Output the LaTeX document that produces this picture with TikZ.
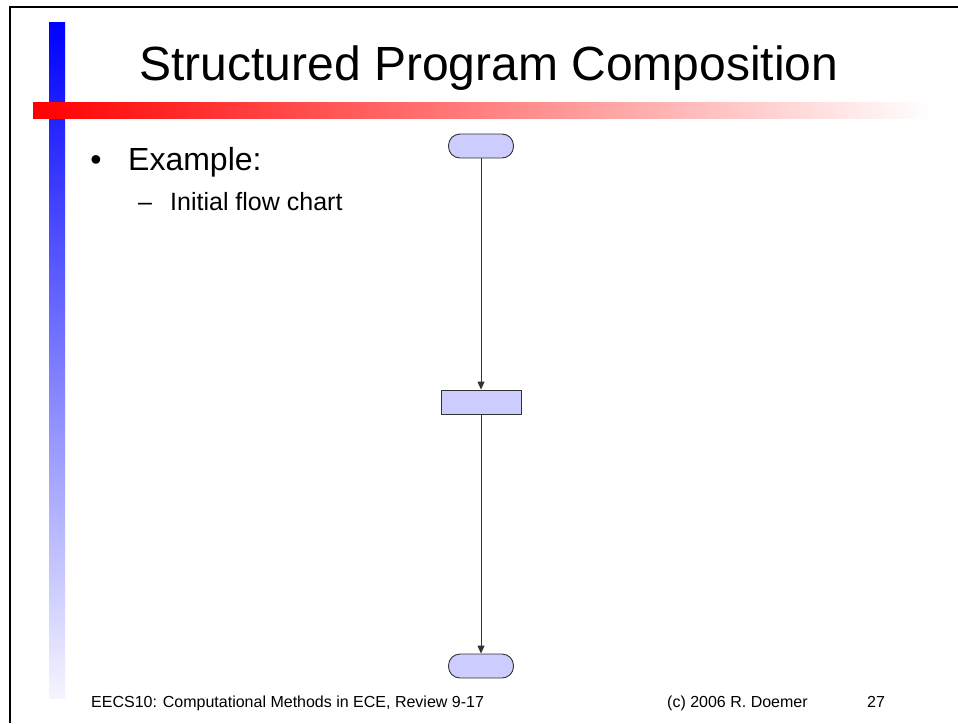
\documentclass[tikz,border=0pt]{standalone}
\usepackage{fontspec}
\setmainfont{Liberation Sans}
\usepackage{tikz}
\usetikzlibrary{arrows.meta}
\definecolor{boxfill}{RGB}{204,204,255}
\definecolor{boxline}{RGB}{50,50,50}

\begin{document}
\begin{tikzpicture}[x=1pt,y=-1pt]
      \tikzstyle{every node}+=[inner sep=0pt]
      \tikzstyle{terminal}=[draw=boxline, fill=boxfill, line width=0.9pt, minimum width=65pt, minimum height=24pt, rounded corners=11.5pt]
      \tikzstyle{process}=[draw=boxline, fill=boxfill, line width=0.9pt, minimum width=80pt, minimum height=24pt]
      \tikzstyle{flow}=[draw=boxline, line width=0.9pt, -{Triangle[length=8pt,width=7pt]}]
      \useasboundingbox (0,0) rectangle (958,723);
      \fill [white] (0,0) rectangle (958,723);
      \draw [black, line width=2pt] (958,7) -- (9.5,7) -- (9.5,723);
      \shade [top color=blue, bottom color=blue!4] (49,22) rectangle (65,698);
      \shade [left color=red, right color=white] (33,102) rectangle (930,118);
      \draw (489,80) node [anchor=base] (title) {\fontsize{48}{56}\selectfont Structured Program Composition};
      \draw (96,170) node [anchor=base] (dot) {\fontsize{32}{38}\selectfont •};
      \draw (128,170) node [anchor=base west] (example) {\fontsize{32}{38}\selectfont Example:};
      \draw (138,210) node [anchor=base west] (dash) {\fontsize{25}{30}\selectfont –};
      \draw (170,210) node [anchor=base west] (initial) {\fontsize{25}{30}\selectfont Initial flow chart};
      \draw (481,146) node [terminal] (start) {};
      \draw (481,402) node [process] (proc) {};
      \draw (481,666) node [terminal] (stop) {};
      \draw [flow] (start) -- (proc);
      \draw [flow] (proc) -- (stop);
      \draw (91,707) node [anchor=base west] (course) {\fontsize{16}{19}\selectfont EECS10: Computational Methods in ECE, Review 9-17};
      \draw (667,707) node [anchor=base west] (author) {\fontsize{16}{19}\selectfont (c) 2006 R. Doemer};
      \draw (867,707) node [anchor=base west] (page) {\fontsize{16}{19}\selectfont 27};
    \end{tikzpicture}
\end{document}
